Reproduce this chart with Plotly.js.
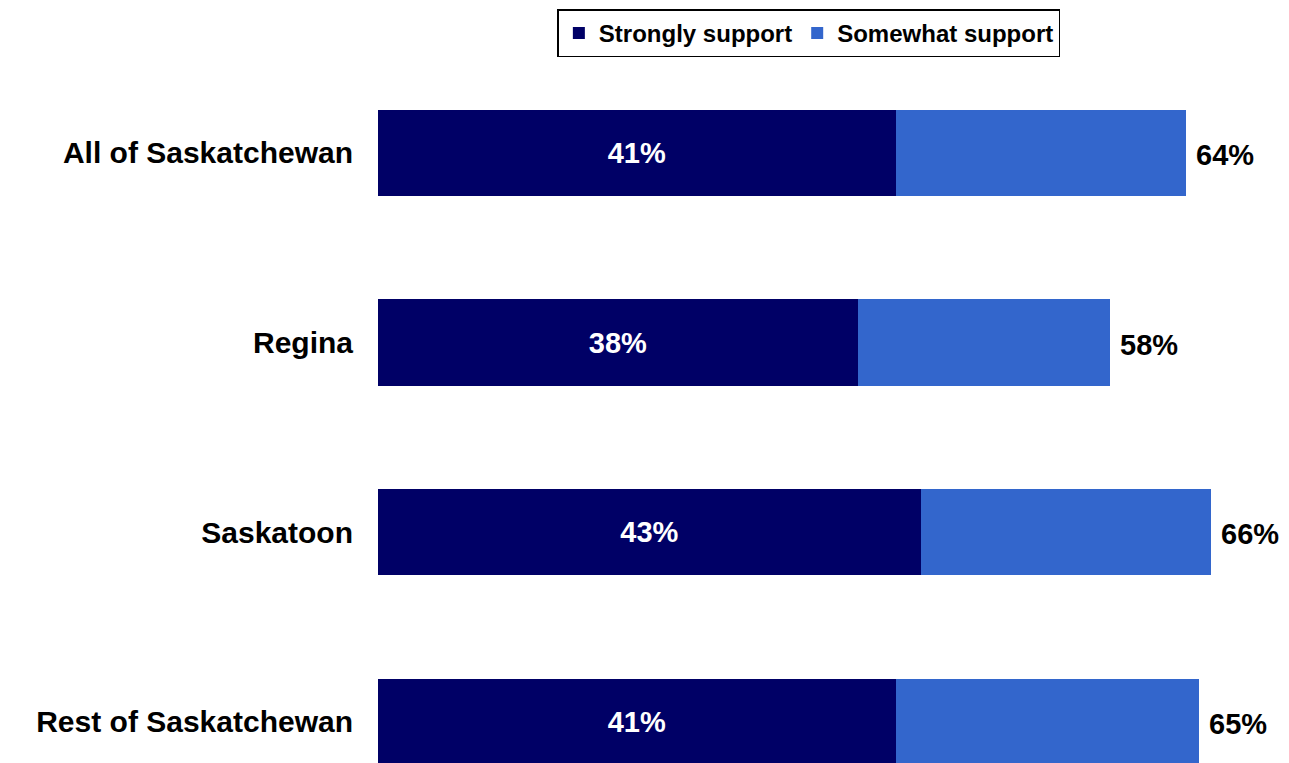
<!DOCTYPE html>
<html>
<head>
<meta charset="utf-8">
<script src="https://cdn.plot.ly/plotly-3.0.1.min.js"></script>
<style>html,body{margin:0;padding:0;background:#fff;}#chart{width:1289px;height:763px;}</style>
</head>
<body>
<div id="chart"></div>
<script>
const categories = ["All of Saskatchewan", "Regina", "Saskatoon", "Rest of Saskatchewan"];
const stronglySupport = [41, 38, 43, 41];
const somewhatSupport = [23, 20, 23, 24];
const totalSupport = [64, 58, 66, 65];
const seriesNames = ["Strongly support", "Somewhat support"];
const colors = ["#000066", "#3366CC"];

const FONT = "Liberation Sans, Arial, sans-serif";

const traces = [
  {
    type: "bar", orientation: "h", name: seriesNames[0],
    y: categories, x: stronglySupport,
    marker: {color: colors[0]}, width: 0.455,
    text: stronglySupport.map(v => v + "%"),
    textposition: "inside", insidetextanchor: "middle",
    textfont: {family: FONT, size: 29, color: "#ffffff", weight: "bold"},
    hoverinfo: "x+y"
  },
  {
    type: "bar", orientation: "h", name: seriesNames[1],
    y: categories, x: somewhatSupport,
    marker: {color: colors[1]}, width: 0.455,
    textposition: "none",
    hoverinfo: "x+y"
  }
];

const annotations = categories.map((c, i) => ({
  x: totalSupport[i], y: c, xref: "x", yref: "y",
  text: totalSupport[i] + "%", showarrow: false,
  xanchor: "left", yanchor: "middle", xshift: 8, yshift: -2,
  font: {family: FONT, size: 29, color: "#000000", weight: "bold"}
}));

const layout = {
  width: 1289, height: 763,
  margin: {l: 378, r: 2, t: 58, b: 0},
  paper_bgcolor: "#ffffff", plot_bgcolor: "#ffffff",
  barmode: "stack", bargap: 0.5,
  showlegend: true,
  legend: {
    orientation: "h", traceorder: "normal",
    x: 0.474, xanchor: "center", y: 1.069, yanchor: "top",
    bordercolor: "#000000", borderwidth: 1.5, bgcolor: "#ffffff",
    font: {family: FONT, size: 24, color: "#000000", weight: "bold"},
    itemwidth: 30, tracegroupgap: 0
  },
  xaxis: {range: [0, 72], showticklabels: false, showgrid: false, zeroline: false, showline: false, fixedrange: true},
  yaxis: {
    type: "category", categoryorder: "array", categoryarray: categories,
    range: [3.217, -0.5], showgrid: false, zeroline: false, showline: false,
    ticks: "", ticklabelstandoff: 24,
    tickfont: {family: FONT, size: 30, color: "#000000", weight: "bold"}
  },
  annotations: annotations,
  font: {family: FONT}
};

Plotly.newPlot("chart", traces, layout, {displayModeBar: false, staticPlot: true});
</script>
</body>
</html>
